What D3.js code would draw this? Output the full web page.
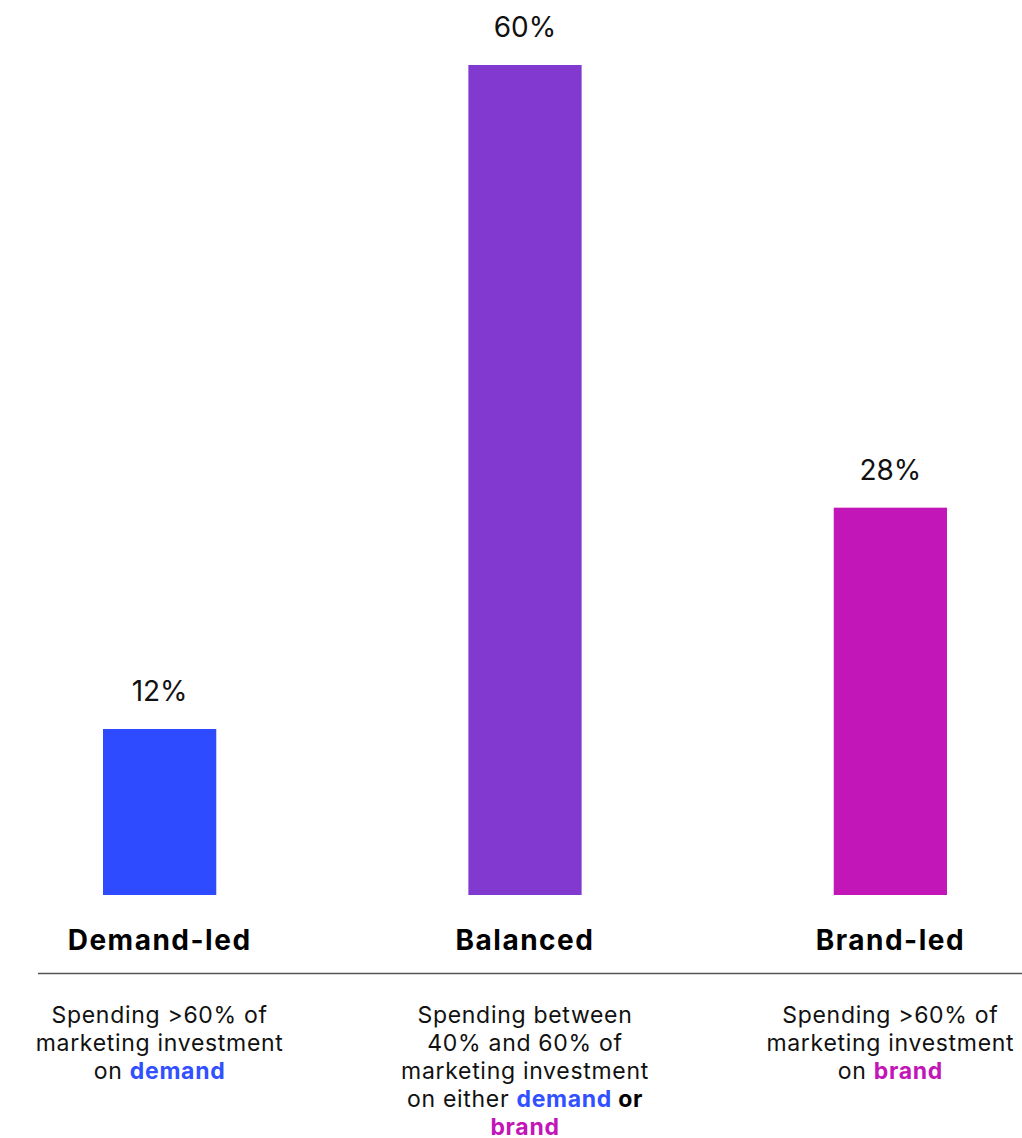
<!DOCTYPE html>
<html>
<head>
<meta charset="utf-8">
<script src="https://cdn.jsdelivr.net/npm/d3@7"></script>
<style>
  body { margin: 0; background: #fff; }
  svg { display: block; font-family: Inter, "Noto Sans", sans-serif; }
</style>
</head>
<body>
<svg id="chart" width="1022" height="1138"></svg>
<script>
var categories = ["Demand-led", "Balanced", "Brand-led"];
var values = [12, 60, 28];
var barColors = ["#2f4bff", "#8139cf", "#c316b9"];

// description lines, each line is a list of [text, style] pieces
var descriptions = [
  [
    [["Spending >60% of", "n"]],
    [["marketing investment", "n"]],
    [["on ", "n"], ["demand", "demand"]]
  ],
  [
    [["Spending between", "n"]],
    [["40% and 60% of", "n"]],
    [["marketing investment", "n"]],
    [["on either ", "n"], ["demand", "demand"], [" or", "b"]],
    [["brand", "brand"]]
  ],
  [
    [["Spending >60% of", "n"]],
    [["marketing investment", "n"]],
    [["on ", "n"], ["brand", "brand"]]
  ]
];

var svg = d3.select("#chart");
var baseline = 895;

var x = d3.scaleBand()
    .domain(categories)
    .range([103, 947])
    .paddingInner(0.69)
    .paddingOuter(0);

var y = d3.scaleLinear()
    .domain([0, 60])
    .range([baseline, 65]);

var data = categories.map(function(c, i) { return {cat: c, value: values[i], color: barColors[i], desc: descriptions[i]}; });

svg.selectAll("rect.bar")
  .data(data)
  .enter().append("rect")
    .attr("class", "bar")
    .attr("x", function(d) { return x(d.cat); })
    .attr("y", function(d) { return y(d.value); })
    .attr("width", x.bandwidth())
    .attr("height", function(d) { return baseline - y(d.value); })
    .attr("fill", function(d) { return d.color; });

svg.selectAll("text.val")
  .data(data)
  .enter().append("text")
    .attr("class", "val")
    .attr("x", function(d) { return x(d.cat) + x.bandwidth() / 2; })
    .attr("y", function(d) { return y(d.value) - 28; })
    .attr("text-anchor", "middle")
    .attr("font-size", 28)
    .attr("fill", "#111")
    .text(function(d) { return d.value + "%"; });

svg.selectAll("text.cat")
  .data(data)
  .enter().append("text")
    .attr("class", "cat")
    .attr("x", function(d) { return x(d.cat) + x.bandwidth() / 2; })
    .attr("y", 950)
    .attr("text-anchor", "middle")
    .attr("font-size", 28)
    .attr("letter-spacing", 1.5)
    .attr("font-weight", "bold")
    .attr("fill", "#000")
    .text(function(d) { return d.cat; });

svg.append("line")
    .attr("x1", 38)
    .attr("x2", 1022)
    .attr("y1", 973.5)
    .attr("y2", 973.5)
    .attr("stroke", "#555")
    .attr("stroke-width", 1.5);

var pieceFill = { n: "#111", b: "#000", demand: "#3150ff", brand: "#c316b9" };

data.forEach(function(d) {
  var t = svg.append("text")
      .attr("text-anchor", "middle")
      .attr("font-size", 23)
      .attr("letter-spacing", 0.7)
      .attr("fill", "#111");
  d.desc.forEach(function(line, li) {
    line.forEach(function(p, pi) {
      var ts = t.append("tspan")
          .attr("fill", pieceFill[p[1]])
          .attr("font-weight", p[1] == "n" ? "normal" : "bold")
          .text(p[0]);
      if (pi == 0) {
        ts.attr("x", x(d.cat) + x.bandwidth() / 2)
          .attr("y", 1023 + li * 28);
      }
    });
  });
});
</script>
</body>
</html>
